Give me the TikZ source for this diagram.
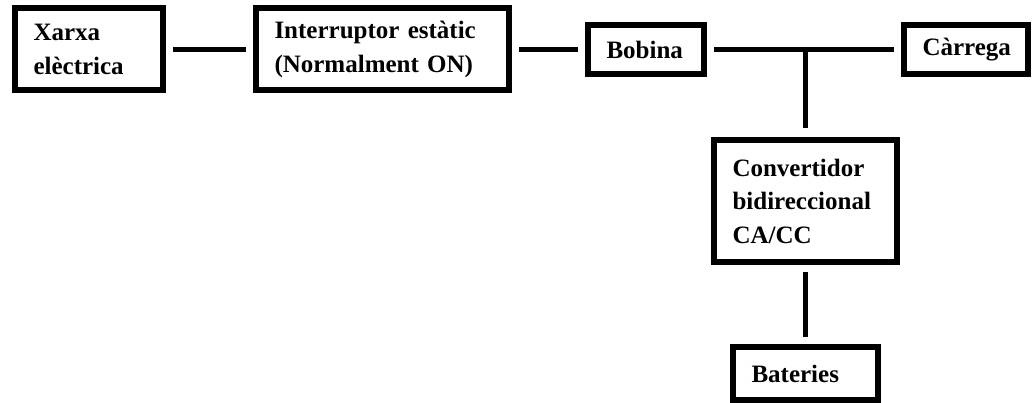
\documentclass[tikz,border=0pt]{standalone}
\usepackage{fontspec}
\setmainfont{Liberation Serif}
\usepackage{tikz}
\usetikzlibrary{arrows,shapes}
\tikzstyle{block}=[draw,line width=6pt,inner xsep=18.5pt,inner ysep=0pt,align=left,font=\fontsize{25}{33.5}\selectfont\bfseries]
\tikzstyle{edge} = [draw,line width=5pt,-,shorten <=7pt,shorten >=7pt]
\tikzstyle{branch} = [edge,shorten <=0pt,shorten >=9pt]

\begin{document}
\begin{tikzpicture}[x=1pt,y=-1pt]
    \useasboundingbox (0,0) rectangle (1032,403);
    % Draw the blocks of the system
    % First the top row
    \node[block,text width=111pt,minimum height=82pt] (xarxa) at (89,49.5) {Xarxa\\elèctrica};
    \node[block,text width=216pt,minimum height=82pt] (interruptor) at (382.5,49.5) {Interruptor estàtic\\(Normalment ON)};
    \node[block,text width=79pt,minimum height=49pt] (bobina) at (646,49.5) {Bobina};
    \node[block,text width=87pt,minimum height=49pt] (carrega) at (966,49.5) {Càrrega};
    
    % Then the branch below
    \node[block,text width=146pt,minimum height=122pt] (convertidor) at (805.5,201) {Convertidor\\bidireccional\\CA/CC};
    \node[block,text width=108pt,minimum height=53pt] (bateries) at (805.5,373.5) {Bateries};
    \coordinate (tee) at (805.5,49.5);
    
    % Connect blocks with lines
    \foreach \source/ \dest in {xarxa/interruptor, interruptor/bobina, bobina/carrega, convertidor/bateries}
        \path[edge] (\source) -- (\dest) ;
    \path[branch] (tee) -- (convertidor);
        
\end{tikzpicture}
\end{document}
